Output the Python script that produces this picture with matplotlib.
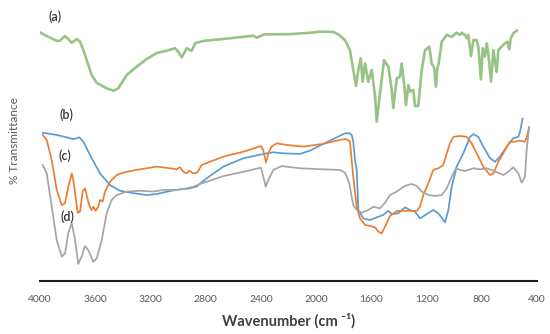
import matplotlib
matplotlib.use('Agg')
import matplotlib.pyplot as plt
import numpy as np

plt.rcParams['font.family'] = ['Lato', 'DejaVu Sans']

# wavenumber (cm-1) and transmittance (arbitrary %)
wn_a = [4000, 3951, 3879, 3855, 3819, 3788, 3770, 3734, 3710, 3686, 3662, 3626, 3589, 3517, 3469,
        3433, 3372, 3300, 3227, 3155, 3082, 3022, 2998, 2974, 2957, 2937, 2913, 2901, 2877, 2817,
        2672, 2455, 2430, 2377, 2189, 2044, 1972, 1875, 1839, 1791, 1755, 1731, 1711, 1694, 1677,
        1663, 1646, 1622, 1597, 1573, 1561, 1537, 1508, 1477, 1452, 1441, 1416, 1392, 1380, 1363,
        1349, 1332, 1320, 1296, 1284, 1260, 1235, 1211, 1180, 1163, 1144, 1132, 1122, 1112, 1090,
        1054, 1018, 982, 958, 945, 922, 909, 898, 878, 861, 837, 825, 806, 793, 777,
        764, 753, 733, 716, 704, 692, 680, 656, 632, 615, 601, 590, 572, 547]
t_a = [91.7, 90.4, 88.6, 88.7, 90.4, 88.9, 87.9, 89.3, 88.3, 85.2, 81.5, 76.0, 73.1, 71.1, 70.2,
       71.1, 76.0, 79.1, 81.9, 84.1, 85.0, 85.9, 84.6, 82.5, 84.0, 85.9, 85.2, 84.9, 87.7, 88.6,
       89.3, 90.5, 89.8, 91.0, 91.1, 91.6, 92.0, 91.9, 91.0, 88.9, 85.2, 77.9, 72.0, 77.9, 82.2,
       73.5, 80.3, 73.5, 77.9, 68.0, 58.8, 69.3, 81.5, 79.1, 70.5, 63.8, 74.8, 75.4, 80.3, 73.0,
       64.9, 72.3, 69.9, 70.5, 64.6, 64.6, 77.9, 85.2, 86.5, 80.3, 78.5, 71.7, 78.5, 80.3, 88.3,
       90.8, 90.1, 91.6, 90.8, 91.6, 90.8, 89.6, 90.8, 83.0, 88.9, 88.9, 86.5, 74.4, 85.9, 82.8,
       87.7, 84.0, 73.5, 85.2, 80.9, 77.2, 85.2, 86.5, 87.7, 88.3, 85.5, 89.6, 91.4, 92.4]

wn_b = [3980, 3879, 3783, 3759, 3715, 3686, 3638, 3565, 3493, 3421, 3348, 3227, 3155, 3058, 2986,
        2913, 2865, 2793, 2672, 2527, 2358, 2310, 2238, 2117, 2044, 1948, 1851, 1791, 1760, 1742,
        1731, 1718, 1706, 1694, 1658, 1610, 1561, 1513, 1477, 1452, 1405, 1356, 1320, 1284, 1247,
        1199, 1151, 1115, 1066, 1042, 1018, 982, 934, 885, 861, 825, 789, 740, 704, 668,
        619, 572, 535, 523, 504]
t_b = [54.7, 53.9, 52.7, 52.3, 53.0, 51.4, 46.5, 39.7, 35.4, 33.3, 32.6, 31.7, 32.1, 33.2, 33.8,
       34.2, 34.9, 37.9, 42.2, 45.3, 47.1, 47.5, 47.1, 46.9, 48.1, 50.6, 53.0, 54.5, 54.5, 53.9,
       51.4, 44.6, 41.0, 26.2, 23.1, 22.5, 23.5, 24.4, 25.9, 24.7, 25.0, 27.2, 26.2, 25.6, 23.1,
       24.7, 26.2, 25.0, 21.7, 26.2, 34.8, 42.2, 47.1, 53.2, 54.2, 53.2, 49.6, 45.3, 44.0, 45.9,
       49.6, 52.7, 53.2, 55.1, 60.0]

wn_c = [3980, 3951, 3915, 3879, 3843, 3819, 3795, 3770, 3759, 3739, 3727, 3710, 3691, 3674, 3657,
        3643, 3626, 3614, 3597, 3578, 3565, 3546, 3529, 3493, 3444, 3397, 3300, 3155, 3058, 3010,
        2986, 2962, 2937, 2919, 2890, 2861, 2829, 2769, 2672, 2527, 2430, 2399, 2383, 2363, 2346,
        2322, 2285, 2213, 2093, 1948, 1851, 1791, 1767, 1755, 1731, 1706, 1682, 1646, 1610, 1573,
        1549, 1525, 1501, 1465, 1416, 1344, 1271, 1247, 1224, 1187, 1151, 1115, 1079, 1054, 1030,
        1006, 958, 909, 873, 837, 789, 740, 716, 680, 632, 596, 559, 523, 487, 472, 458]
t_c = [53.9, 52.0, 44.6, 33.6, 28.0, 28.7, 34.8, 39.7, 37.3, 29.9, 25.2, 25.6, 33.0, 34.2, 30.5,
       28.0, 26.2, 27.4, 25.9, 27.4, 29.9, 29.3, 33.0, 36.6, 39.1, 40.0, 41.0, 42.2, 41.6, 41.2,
       42.0, 40.3, 39.7, 40.7, 39.7, 40.0, 42.8, 44.0, 45.9, 47.7, 49.3, 49.8, 48.3, 43.7, 47.1,
       49.6, 50.8, 50.2, 49.6, 50.6, 51.8, 52.4, 52.0, 51.4, 38.5, 27.4, 23.1, 20.7, 20.3, 19.8,
       18.2, 17.6, 20.0, 24.0, 25.8, 25.9, 25.9, 27.4, 31.7, 36.1, 41.0, 41.6, 42.8, 47.1, 50.8,
       53.2, 53.5, 53.2, 50.8, 47.1, 42.2, 39.1, 39.7, 44.0, 48.3, 51.4, 51.4, 51.8, 51.4, 53.5, 56.5]

wn_d = [3980, 3951, 3915, 3879, 3843, 3819, 3795, 3770, 3746, 3723, 3698, 3674, 3650, 3614, 3589,
        3553, 3517, 3481, 3444, 3372, 3276, 3179, 3107, 3010, 2937, 2890, 2841, 2672, 2527, 2419,
        2399, 2383, 2365, 2346, 2310, 2249, 2117, 1948, 1827, 1791, 1760, 1731, 1706, 1670, 1622,
        1586, 1537, 1501, 1465, 1416, 1356, 1308, 1271, 1235, 1187, 1139, 1090, 1054, 1018, 987,
        958, 922, 861, 813, 764, 716, 644, 608, 572, 535, 511, 487, 475, 456]
t_d = [42.8, 39.7, 27.4, 15.1, 9.0, 10.2, 17.6, 21.5, 15.1, 6.3, 9.0, 12.9, 11.4, 7.1, 8.4,
       15.1, 25.0, 29.9, 31.7, 33.0, 33.3, 33.0, 33.6, 33.6, 34.2, 34.8, 35.8, 38.7, 40.3, 41.6,
       41.8, 38.5, 34.8, 37.3, 41.0, 42.4, 41.6, 41.2, 41.0, 40.0, 36.1, 28.0, 26.2, 25.2, 26.2,
       27.4, 26.8, 28.9, 31.7, 33.0, 35.1, 35.8, 35.1, 33.0, 31.7, 31.4, 31.7, 34.2, 38.5, 41.6,
       41.0, 40.6, 41.6, 41.2, 41.6, 40.7, 39.1, 40.3, 42.0, 39.7, 36.3, 38.5, 48.3, 56.9]

labels = ['(a)', '(b)', '(c)', '(d)']
label_pos = [(3891, 97.4), (3812, 61.3), (3819, 46.1), (3804, 23.6)]
xticks = [4000, 3600, 3200, 2800, 2400, 2000, 1600, 1200, 800, 400]

fig = plt.figure(figsize=(5.5, 3.34), dpi=100)
ax = fig.add_axes([40/550, 53/334, 497/550, 271/334])

ax.plot(wn_a, t_a, color='#98C386', lw=1.9, solid_joinstyle='round')
ax.plot(wn_b, t_b, color='#5B9BD5', lw=1.25, solid_joinstyle='round')
ax.plot(wn_c, t_c, color='#ED7D31', lw=1.25, solid_joinstyle='round')
ax.plot(wn_d, t_d, color='#A5A5A5', lw=1.25, solid_joinstyle='round')

for lab, (x, y) in zip(labels, label_pos):
    ax.text(x, y, lab, ha='center', va='center', fontsize=9, fontweight='semibold', color='#333333')

ax.set_xlim(4000, 400)
ax.set_ylim(0, 100)
ax.set_xticks(xticks)
ax.set_xticklabels([str(t) for t in xticks])
ax.set_yticks([])
ax.tick_params(axis='x', length=0, pad=10, labelsize=7.5, labelcolor='#595959')
for s in ['top', 'right', 'left']:
    ax.spines[s].set_visible(False)
ax.spines['bottom'].set_linewidth(1.5)
ax.spines['bottom'].set_color('#1a1a1a')

ax.set_xlabel('Wavenumber (cm \u207b\u00b9)', fontsize=10.5, fontweight='bold', color='#404040', labelpad=7)
fig.text(15/550, 1 - 141/334, '% Transmittance', rotation=90, ha='center', va='center',
         fontsize=8.5, color='#595959')

fig.savefig('out.png', dpi=100)
